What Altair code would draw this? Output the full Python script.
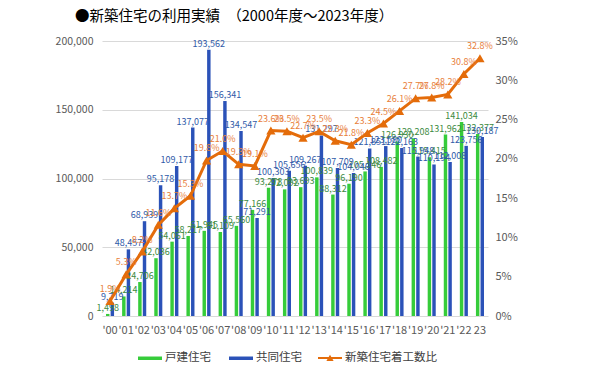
import altair as alt
import pandas as pd

years = ["'00", "'01", "'02", "'03", "'04", "'05", "'06", "'07", "'08", "'09", "'10", "'11",
         "'12", "'13", "'14", "'15", "'16", "'17", "'18", "'19", "'20", "'21", "'22", "23"]
detached = [1498, 14214, 24706, 42036, 54061, 58217, 61945, 61109, 65560, 77166, 93278, 92092,
            93693, 100839, 88312, 96190, 105146, 108482, 126930, 129208, 115415, 131962, 141034, 132377]
collective = [9719, 48457, 68939, 95178, 109177, 137077, 193562, 156341, 134547, 71291, 100303, 105656,
              109267, 131297, 107709, 104046, 121851, 123580, 122163, 115948, 110194, 112008, 123756, 130187]
ratio = [1.9, 5.3, 8.2, 11.6, 13.7, 15.3, 19.8, 21.0, 19.3, 19.1, 23.6, 23.5,
         22.7, 23.5, 22.3, 21.8, 23.3, 24.5, 26.1, 27.7, 27.8, 28.2, 30.8, 32.8]
types = ["戸建住宅", "共同住宅"]
series_name = "新築住宅着工数比"
title_text = "●新築住宅の利用実績　（2000年度～2023年度）"

GREEN = "#36CC3A"
BLUE = "#2B52B8"
ORANGE = "#E46C0A"
GREEN_LBL = "#3B8A3E"
BLUE_LBL = "#2F5AA8"
ORANGE_LBL = "#E8803A"
AXIS_LBL = "#595959"
FONT = "Noto Sans CJK JP"

bars_df = pd.DataFrame({
    "year": years * 2,
    "type": [types[0]] * len(years) + [types[1]] * len(years),
    "value": detached + collective,
})
ratio_df = pd.DataFrame({"year": years, "series": series_name, "ratio": ratio})

x_enc = alt.X("year:N", sort=years,
              scale=alt.Scale(paddingInner=0.5, paddingOuter=0.25),
              axis=alt.Axis(title=None, labelAngle=0, domain=False, ticks=False,
                            labelColor=AXIS_LBL, labelFontSize=11, labelFont=FONT,
                            labelPadding=8))
xoff = alt.XOffset("type:N", sort=types,
                   scale=alt.Scale(domain=types, paddingInner=0.25, paddingOuter=0))
y_bar = alt.Y("value:Q", scale=alt.Scale(domain=[0, 200000], nice=False),
              axis=alt.Axis(title=None, values=[0, 50000, 100000, 150000, 200000], format=",d",
                            grid=True, gridColor="#D9D9D9", gridWidth=1.2, domain=False, ticks=False,
                            labelColor=AXIS_LBL, labelFontSize=10.5, labelFont=FONT, labelPadding=9))
y_ratio = alt.Y("ratio:Q", scale=alt.Scale(domain=[0, 35], nice=False),
                axis=alt.Axis(title=None, orient="right", values=[0, 5, 10, 15, 20, 25, 30, 35],
                              labelExpr="datum.value + '%'", grid=False, domain=False, ticks=False,
                              labelColor=AXIS_LBL, labelFontSize=11, labelFont=FONT, labelPadding=7))

base_bar = alt.Chart(bars_df)
bars = base_bar.mark_bar().encode(
    x=x_enc, xOffset=xoff, y=y_bar,
    color=alt.Color("type:N", sort=types,
                    scale=alt.Scale(domain=types, range=[GREEN, BLUE]),
                    legend=alt.Legend(orient="none", legendX=36, legendY=305, direction="horizontal",
                                      title=None, symbolType="M-1,-0.145H1V0.145H-1Z", symbolSize=576,
                                      symbolStrokeWidth=0, labelFontSize=11.5, labelFont=FONT,
                                      labelColor="#404040", labelOffset=3, columnPadding=18, padding=0)),
)
txt_green = base_bar.transform_filter(alt.datum.type == types[0]).mark_text(
    baseline="bottom", dy=-1, fontSize=9, font=FONT, color=GREEN_LBL
).encode(x=x_enc, xOffset=xoff, y=y_bar, text=alt.Text("value:Q", format=",d"))
txt_blue = base_bar.transform_filter(alt.datum.type == types[1]).mark_text(
    baseline="bottom", dy=-1, fontSize=9, font=FONT, color=BLUE_LBL
).encode(x=x_enc, xOffset=xoff, y=y_bar, text=alt.Text("value:Q", format=",d"))

bar_layer = alt.layer(bars, txt_green, txt_blue)

base_ratio = alt.Chart(ratio_df)
line = base_ratio.mark_line(color=ORANGE, strokeWidth=3).encode(x=x_enc, y=y_ratio)
pts = base_ratio.mark_point(shape="triangle-up", filled=True, size=85, opacity=1).encode(
    x=x_enc, y=y_ratio,
    color=alt.Color("series:N", scale=alt.Scale(domain=[series_name], range=[ORANGE]),
                    legend=alt.Legend(orient="none", legendX=216, legendY=305, direction="horizontal",
                                      title=None,
                                      symbolType="M-1,-0.09H1V0.09H-1Z M0,-0.28L0.3,0.24H-0.3Z",
                                      symbolSize=576, symbolStrokeWidth=0,
                                      labelFontSize=11.5, labelFont=FONT, labelColor="#404040",
                                      labelOffset=3, padding=0)),
)
ratio_txt = base_ratio.transform_calculate(
    lbl="format(datum.ratio, '.1f') + '%'"
).mark_text(baseline="bottom", dy=-7, fontSize=9, font=FONT, color=ORANGE_LBL).encode(
    x=x_enc, y=y_ratio, text="lbl:N")

ratio_layer = alt.layer(line, pts, ratio_txt)

chart = alt.layer(bar_layer, ratio_layer).resolve_scale(
    y="independent", color="independent"
).properties(
    width=386, height=275,
    padding={"left": 94, "top": 33, "right": 94, "bottom": 50},
    autosize=alt.AutoSizeParams(type="none"),
    title=alt.TitleParams(title_text, anchor="start", frame="group", dx=-27, offset=11, fontSize=14.5,
                          font=FONT, fontWeight="normal", color="#000000"),
    background="white",
).configure_view(stroke=None)

chart.save("out.html", embed_options={"renderer": "svg", "actions": False})
